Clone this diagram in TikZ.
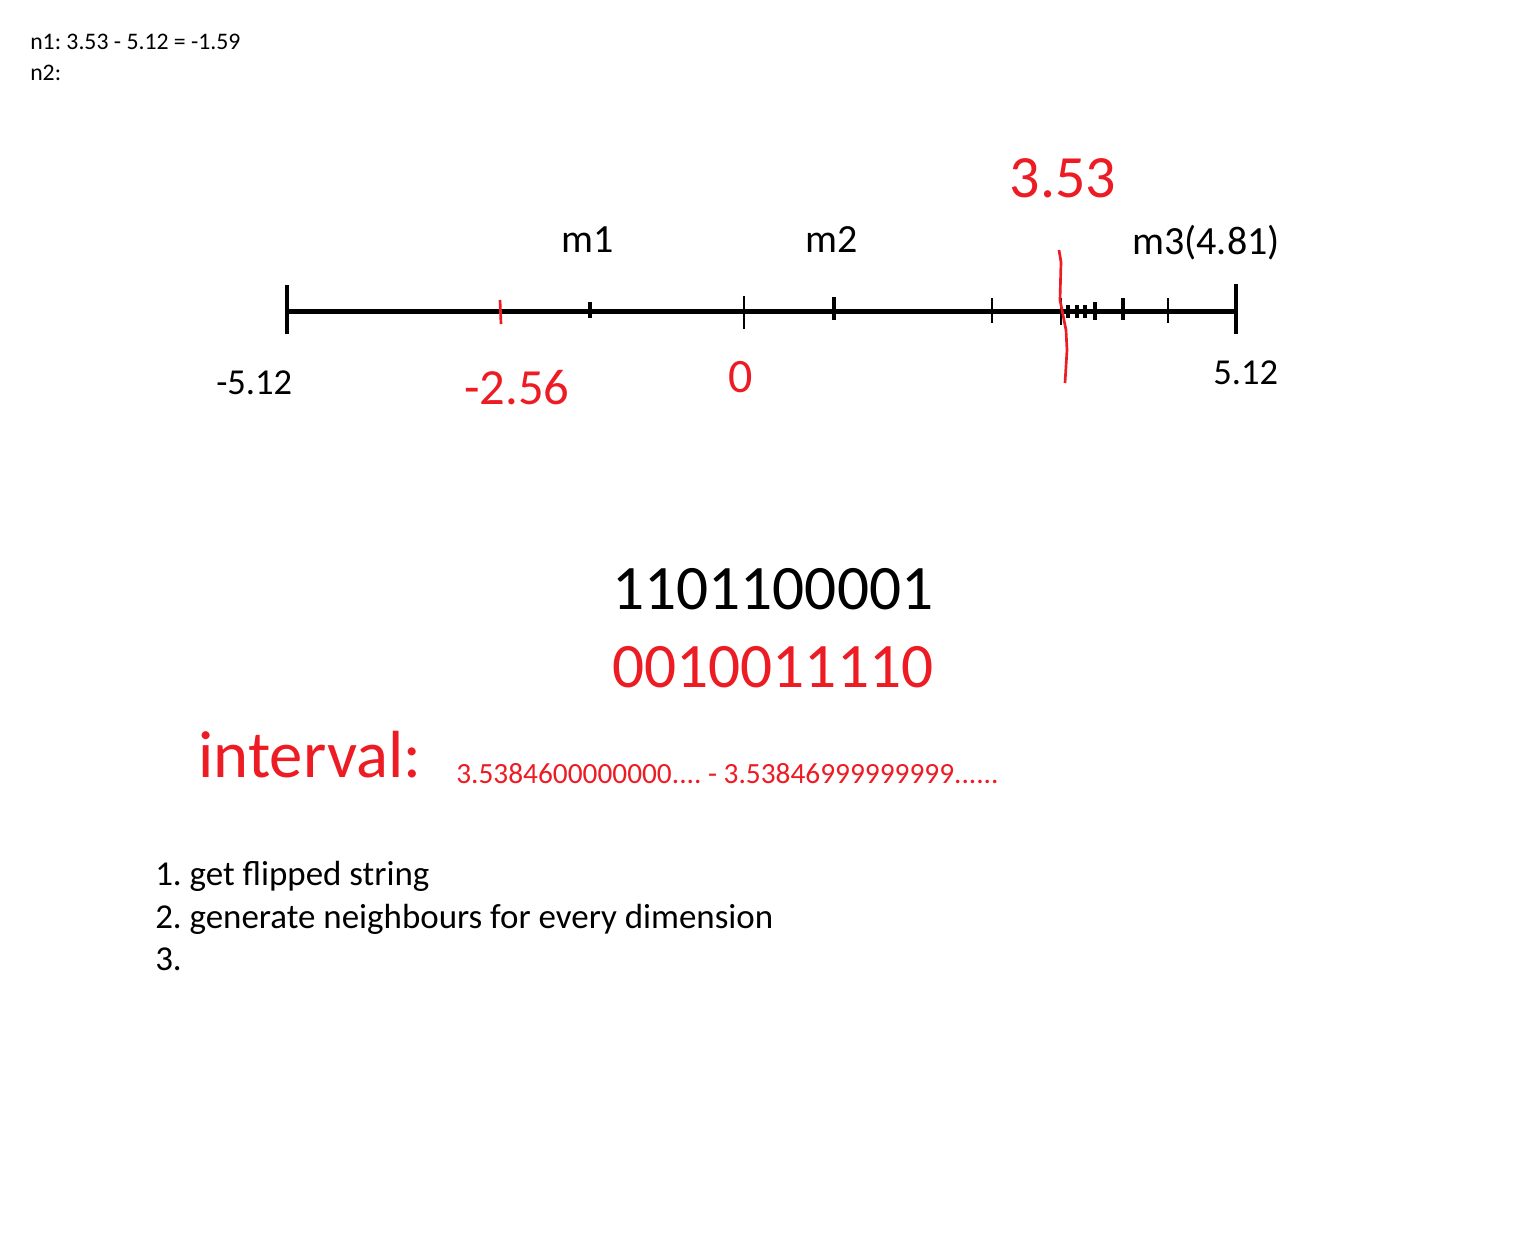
\documentclass[tikz,border=0pt]{standalone}
\usepackage{fontspec}
\setmainfont{Carlito}
\definecolor{paintred}{RGB}{237,28,36}
\frenchspacing
\begin{document}
\begin{tikzpicture}[x=0.75pt,y=-0.75pt,
        txt/.style={anchor=base west,inner sep=0pt,font=\fontsize{#1}{#1}\selectfont},
        hand/.style={inner sep=0pt,font=\fontsize{#1}{#1}\selectfont},
        tick/.style={line width=2pt}]
                \useasboundingbox (0,0) rectangle (1536,1249);
                \fill[white] (0,0) rectangle (1536,1249);
                % notes
                \node[txt=17.8pt] (n1) at (30,50) {n1: 3.53 - 5.12 = -1.59};
                \node[txt=17.8pt] (n2) at (30,80) {n2:};
                % number line
                \draw[line width=3.75pt] (287,311) -- (1236,311);
                \draw[line width=3pt] (287,285) -- (287,334)
                      (1236,284) -- (1236,334);
                \foreach \x/\a/\b/\w in {590/302/318/3,744/296/329/2,834/297/320/3,992/298/323/2,
                        1061/298/325/2,1068/305/318/2.4,1077/305/318/2.4,1085/305/318/2.4,
                        1095/302/320/2.4,1123/298/320/2.4,1168/298/323/2}
                    \draw[tick,line width=\w pt] (\x,\a) -- (\x,\b);
                \draw[tick,paintred] (500,300) -- (501,324);
                \draw[tick,paintred] (1059,250) -- (1061,262) -- (1060,300)
                      -- (1066,330) -- (1067,350) -- (1065,383);
                \node[txt=27.4pt] (lo) at (216,394) {-5.12};
                \node[txt=27.4pt] (hi) at (1213,384) {5.12};
                % handwritten marks
                \node[hand=30pt] (m1) at (588,240) {m1};
                \node[hand=30pt] (m2) at (832,240) {m2};
                \node[hand=30pt] (m3) at (1206,243) {m3(4.81)};
                \node[hand=45pt,text=paintred] (v353) at (1063,178) {3.53};
                \node[hand=38pt,text=paintred] (v256) at (517,388) {-2.56};
                \node[hand=36pt,text=paintred] (zero) at (741,377) {0};
                % bit strings
                \node[txt=47.5pt] (bits) at (612,609) {1101100001};
                \node[txt=47.5pt,text=paintred] (flip) at (612,687) {0010011110};
                \node[hand=50pt,text=paintred] (intv) at (310,755) {interval:};
                \node[txt=22pt,text=paintred] (rng) at (456,783)
                      {3.5384600000000.... - 3.53846999999999......};
                % steps
                \node[txt=26.2pt] (s1) at (155,885) {1. get flipped string};
                \node[txt=26.2pt] (s2) at (155,928) {2. generate neighbours for every dimension};
                \node[txt=26.2pt] (s3) at (155,970) {3.};
            \end{tikzpicture}
\end{document}
